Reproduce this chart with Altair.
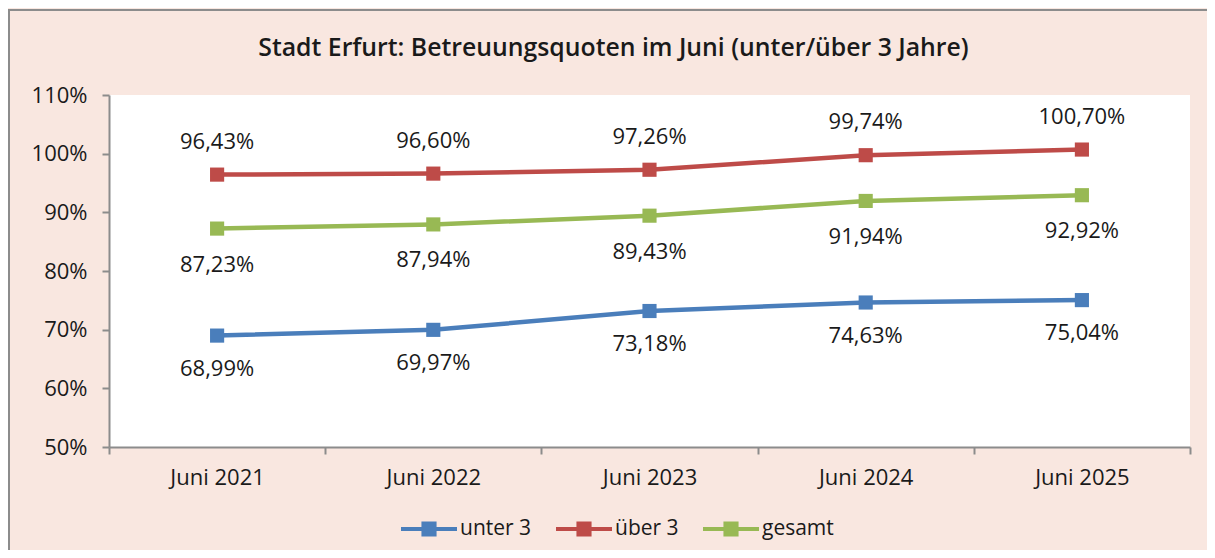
import altair as alt
import pandas as pd

years = ["Juni 2021", "Juni 2022", "Juni 2023", "Juni 2024", "Juni 2025"]
unter3 = [68.99, 69.97, 73.18, 74.63, 75.04]
ueber3 = [96.43, 96.60, 97.26, 99.74, 100.70]
gesamt = [87.23, 87.94, 89.43, 91.94, 92.92]
series_names = ["unter 3", "über 3", "gesamt"]
colors = ["#4a7ebb", "#be4b48", "#98b954"]
y_ticks = [50, 60, 70, 80, 90, 100, 110]

rows = []
for name, vals in zip(series_names, [unter3, ueber3, gesamt]):
    for yr, v in zip(years, vals):
        rows.append({"Jahr": yr, "Serie": name, "Wert": v,
                     "Label": f"{v:.2f}".replace(".", ",") + "%"})
df = pd.DataFrame(rows)

FONT = "Open Sans"

x_enc = alt.X("Jahr:N", sort=years, title=None,
              scale=alt.Scale(paddingInner=0, paddingOuter=0),
              axis=alt.Axis(tickBand="extent", labelAngle=0, labelFontSize=22,
                            labelFont=FONT, labelColor="#1a1a1a", labelPadding=13,
                            tickSize=7, tickColor="#8c8c8c", tickWidth=2,
                            domainColor="#8c8c8c", domainWidth=2))
y_enc = alt.Y("Wert:Q", title=None,
              scale=alt.Scale(domain=[50, 110], nice=False, zero=False),
              axis=alt.Axis(values=y_ticks, labelExpr="datum.value + '%'",
                            labelFontSize=22, labelFont=FONT, labelColor="#1a1a1a",
                            labelPadding=15, tickSize=7, tickColor="#8c8c8c",
                            tickWidth=2, domainColor="#8c8c8c", domainWidth=2,
                            grid=False))

legend_symbol = ("M-1,-0.075L1,-0.075L1,0.075L-1,0.075Z "
                 "M-0.27,-0.27L0.27,-0.27L0.27,0.27L-0.27,0.27Z")

color_enc = alt.Color("Serie:N", sort=series_names,
                      scale=alt.Scale(domain=series_names, range=colors),
                      legend=alt.Legend(title=None, orient="none", direction="horizontal",
                                        legendX=292, legendY=406,
                                        symbolType=legend_symbol, symbolSize=3136,
                                        symbolStrokeWidth=0, labelFontSize=21,
                                        labelFont=FONT, labelColor="#1a1a1a",
                                        labelOffset=3, columnPadding=24,
                                        symbolOpacity=1, padding=0))

base = alt.Chart(df)

lines = base.mark_line(strokeWidth=4.5).encode(x=x_enc, y=y_enc, color=color_enc)
points = base.mark_point(shape="square", filled=True, size=200, opacity=1).encode(
    x=x_enc, y=y_enc, color=alt.Color("Serie:N", scale=alt.Scale(domain=series_names, range=colors), legend=None))

def labels(name, dy):
    return base.transform_filter(alt.datum.Serie == name).mark_text(
        dy=dy, fontSize=22, font=FONT, color="#1a1a1a").encode(
        x=alt.X("Jahr:N", sort=years), y="Wert:Q", text="Label:N")

frame = alt.Chart(pd.DataFrame({"a": [0]})).mark_rect(
    fill=None, stroke="#8c8c8c", strokeWidth=2).encode(
    x=alt.value(-100), x2=alt.value(1300), y=alt.value(-85), y2=alt.value(600))

chart = alt.layer(
    frame, lines, points,
    labels("unter 3", 33), labels("über 3", -33), labels("gesamt", 36)
).properties(
    width=1081, height=352,
    title=alt.TitleParams("Stadt Erfurt: Betreuungsquoten im Juni (unter/über 3 Jahre)",
                          fontSize=24.8, font=FONT, fontWeight=600, color="#1a1a1a",
                          anchor="middle", frame="group", dx=-36, offset=-52),
    padding={"left": 101, "top": 87, "right": 17, "bottom": 103},
    autosize=alt.AutoSizeParams(type="none"),
    background="#f9e7e0",
).configure_view(fill="white", stroke=None)

chart.save("out.html", embed_options={"renderer": "svg", "actions": False})
